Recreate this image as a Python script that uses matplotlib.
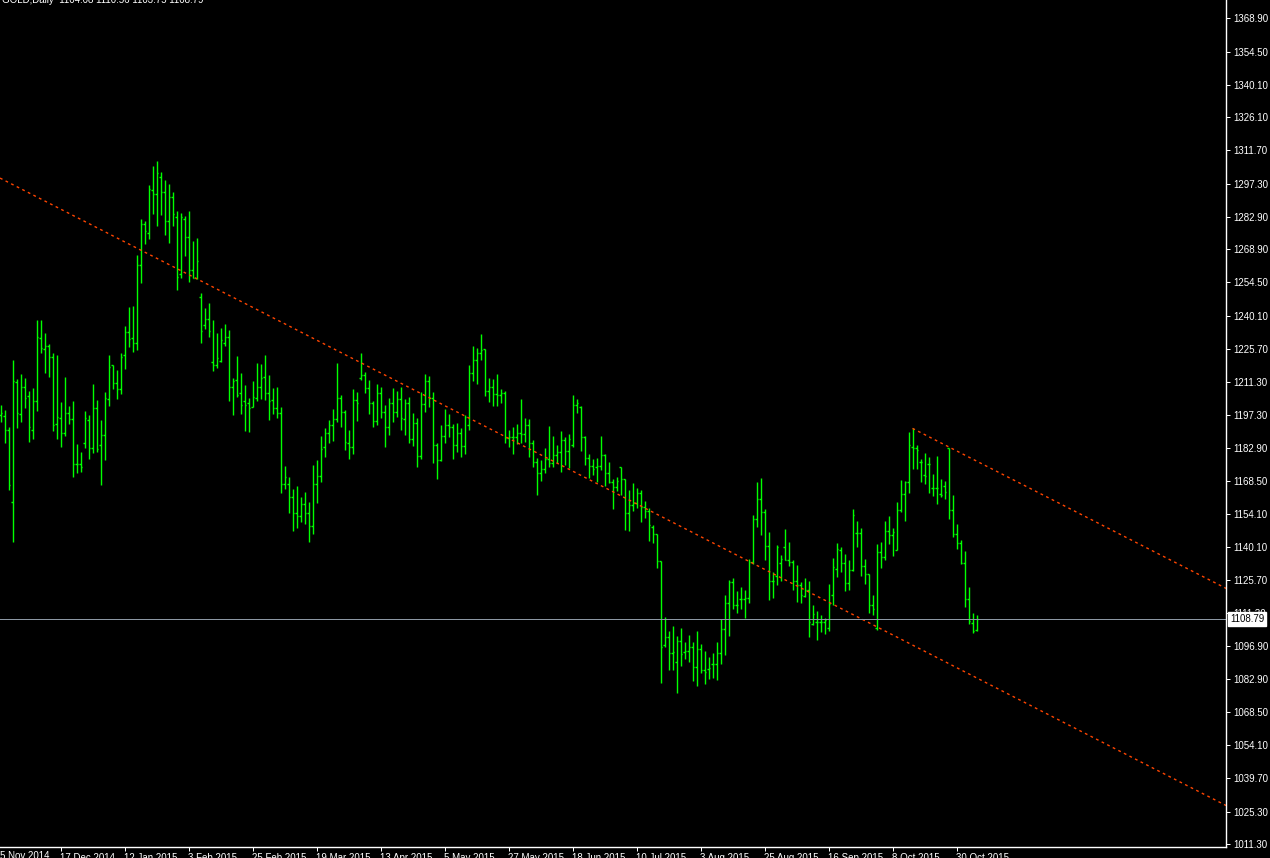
import numpy as np
import matplotlib
matplotlib.use('Agg')
import matplotlib.pyplot as plt
from matplotlib.transforms import blended_transform_factory

plt.rcParams['font.family'] = ['Liberation Sans', 'DejaVu Sans']

# GOLD daily bars, oldest first
opens = [
    1197.1, 1196.7, 1190.6, 1159.3, 1211.5, 1197.4, 1209.1, 1205.3, 1190.6, 1203.1,
    1230.3, 1225.7, 1227.0, 1222.1, 1193.2, 1195.6, 1189.1, 1197.8, 1195.2, 1175.9,
    1175.9, 1184.8, 1194.9, 1182.6, 1200.0, 1183.9, 1188.4, 1203.9, 1218.7, 1210.8,
    1208.2, 1223.1, 1232.9, 1230.3, 1228.1, 1261.9, 1279.7, 1276.0, 1294.5, 1292.7,
    1300.0, 1293.5, 1281.1, 1291.6, 1282.7, 1258.0, 1281.8, 1274.0, 1259.9, 1256.4,
    1248.0, 1236.1, 1238.5, 1220.0, 1218.7, 1220.3, 1228.4, 1230.7, 1209.1, 1212.3,
    1206.5, 1203.2, 1202.1, 1200.7, 1204.3, 1209.1, 1213.7, 1206.5, 1203.6, 1200.0,
    1197.8, 1167.1, 1167.1, 1161.6, 1154.8, 1153.3, 1158.4, 1154.5, 1149.0, 1167.1,
    1170.7, 1183.4, 1189.2, 1192.8, 1195.2, 1204.3, 1198.4, 1184.8, 1183.1, 1203.4,
    1213.0, 1214.4, 1208.6, 1202.1, 1194.5, 1206.8, 1198.2, 1192.0, 1202.1, 1198.2,
    1204.2, 1195.4, 1202.1, 1186.7, 1193.5, 1179.3, 1201.7, 1211.7, 1204.3, 1184.0,
    1177.6, 1187.9, 1192.8, 1191.7, 1184.1, 1189.2, 1183.7, 1192.8, 1215.4, 1220.9,
    1223.8, 1225.5, 1207.3, 1209.1, 1206.2, 1205.6, 1206.8, 1187.1, 1187.4, 1187.7,
    1189.4, 1189.0, 1192.9, 1184.8, 1176.6, 1171.8, 1173.7, 1178.0, 1176.2, 1179.8,
    1181.2, 1186.3, 1181.6, 1184.1, 1201.3, 1200.5, 1187.7, 1178.5, 1175.0, 1174.7,
    1175.0, 1179.6, 1172.1, 1168.2, 1165.8, 1174.4, 1169.5, 1154.5, 1158.0, 1158.8,
    1163.2, 1157.1, 1155.4, 1148.7, 1145.6, 1133.9, 1097.3, 1101.1, 1093.9, 1090.1,
    1099.2, 1094.6, 1094.9, 1096.8, 1088.1, 1095.9, 1086.6, 1087.2, 1089.1, 1089.1,
    1094.2, 1104.3, 1115.5, 1124.8, 1114.7, 1117.3, 1117.3, 1117.7, 1133.6, 1152.2,
    1160.6, 1155.1, 1140.3, 1125.0, 1127.3, 1133.1, 1139.8, 1134.3, 1133.6, 1125.0,
    1123.5, 1118.7, 1121.3, 1106.4, 1107.4, 1107.4, 1107.4, 1104.7, 1119.1, 1130.5,
    1138.5, 1132.9, 1124.2, 1130.0, 1146.1, 1146.1, 1131.7, 1128.2, 1114.8, 1104.7,
    1137.6, 1135.6, 1147.0, 1145.0, 1138.6, 1155.9, 1162.9, 1168.2, 1183.4, 1182.7,
    1176.6, 1170.9, 1175.9, 1165.3, 1165.3, 1162.7, 1166.5, 1183.0, 1155.9, 1145.6,
    1141.5, 1132.9, 1117.4, 1106.9, 1104.08,
]
highs = [
    1201.4, 1199.3, 1192.0, 1220.9, 1212.5, 1214.8, 1213.1, 1207.5, 1208.8, 1238.2,
    1238.2, 1232.6, 1227.8, 1224.0, 1223.1, 1202.7, 1213.5, 1201.0, 1203.1, 1184.5,
    1181.1, 1198.8, 1197.1, 1210.5, 1203.6, 1194.9, 1207.0, 1223.1, 1218.7, 1216.6,
    1224.0, 1235.6, 1243.7, 1244.3, 1266.4, 1282.0, 1281.1, 1296.7, 1304.9, 1307.1,
    1302.3, 1298.9, 1297.3, 1293.7, 1285.4, 1284.6, 1283.3, 1285.4, 1272.4, 1273.7,
    1250.0, 1243.4, 1245.5, 1238.2, 1232.6, 1234.8, 1236.5, 1233.9, 1213.0, 1222.6,
    1215.3, 1210.1, 1204.3, 1211.8, 1219.5, 1219.2, 1223.1, 1214.4, 1208.8, 1209.2,
    1200.6, 1175.1, 1170.4, 1164.9, 1166.3, 1161.6, 1163.7, 1159.4, 1175.4, 1177.6,
    1188.0, 1191.5, 1194.9, 1199.7, 1219.6, 1205.7, 1199.3, 1190.6, 1208.2, 1207.0,
    1223.9, 1215.7, 1212.3, 1203.3, 1210.5, 1209.2, 1201.4, 1204.5, 1208.8, 1207.5,
    1209.4, 1204.0, 1204.9, 1197.8, 1195.8, 1207.1, 1214.8, 1214.0, 1207.1, 1184.8,
    1192.6, 1199.7, 1197.5, 1193.2, 1193.6, 1191.5, 1196.9, 1218.7, 1227.0, 1226.1,
    1232.2, 1225.5, 1213.1, 1212.7, 1214.8, 1208.3, 1207.5, 1190.6, 1192.0, 1193.2,
    1204.0, 1195.8, 1195.4, 1186.3, 1178.3, 1177.6, 1182.8, 1192.2, 1187.9, 1183.9,
    1190.0, 1187.4, 1188.9, 1205.7, 1204.0, 1201.2, 1188.0, 1180.2, 1178.0, 1178.6,
    1188.0, 1180.2, 1176.7, 1169.4, 1170.2, 1174.4, 1169.5, 1164.6, 1167.5, 1165.5,
    1164.5, 1159.8, 1156.8, 1149.3, 1145.6, 1133.9, 1109.6, 1103.5, 1105.7, 1101.4,
    1105.0, 1098.8, 1101.8, 1098.8, 1103.5, 1097.8, 1094.9, 1092.3, 1093.9, 1099.0,
    1108.6, 1119.1, 1125.6, 1126.5, 1120.9, 1122.6, 1121.3, 1134.7, 1153.6, 1168.1,
    1169.8, 1156.4, 1146.4, 1129.1, 1140.8, 1136.3, 1147.7, 1142.1, 1134.3, 1132.1,
    1124.8, 1126.4, 1125.2, 1114.7, 1112.1, 1110.5, 1109.3, 1123.9, 1135.2, 1141.7,
    1139.9, 1136.9, 1134.3, 1156.4, 1151.2, 1148.0, 1134.7, 1128.2, 1119.0, 1141.2,
    1142.1, 1151.2, 1153.3, 1148.3, 1159.4, 1168.9, 1168.5, 1189.6, 1191.3, 1184.0,
    1177.9, 1180.5, 1179.1, 1171.5, 1179.3, 1169.2, 1168.5, 1183.0, 1162.4, 1149.9,
    1142.9, 1138.2, 1122.6, 1111.3, 1110.56,
]
lows = [
    1194.2, 1185.1, 1164.6, 1142.2, 1191.6, 1194.2, 1200.3, 1185.5, 1186.8, 1198.8,
    1224.1, 1215.4, 1213.7, 1190.3, 1186.8, 1183.1, 1188.1, 1193.3, 1170.4, 1172.1,
    1172.5, 1182.9, 1178.2, 1180.5, 1181.2, 1166.9, 1177.6, 1201.1, 1208.5, 1204.2,
    1206.3, 1217.2, 1226.7, 1224.5, 1225.4, 1254.4, 1271.3, 1273.5, 1284.3, 1279.1,
    1283.9, 1275.2, 1271.7, 1279.0, 1251.4, 1256.6, 1266.0, 1254.8, 1256.3, 1255.9,
    1228.1, 1234.2, 1230.7, 1216.3, 1217.6, 1220.2, 1227.1, 1203.3, 1197.1, 1205.0,
    1197.5, 1190.2, 1189.7, 1200.6, 1203.2, 1204.2, 1203.6, 1194.9, 1197.5, 1195.9,
    1163.3, 1165.0, 1154.6, 1147.0, 1148.2, 1150.9, 1149.9, 1142.2, 1145.7, 1159.1,
    1168.2, 1179.0, 1185.1, 1186.0, 1194.2, 1192.0, 1182.1, 1178.2, 1180.3, 1194.6,
    1212.3, 1206.8, 1197.4, 1191.9, 1192.8, 1195.9, 1183.4, 1188.6, 1194.2, 1196.4,
    1190.6, 1188.4, 1185.1, 1183.7, 1174.7, 1178.2, 1198.5, 1200.7, 1176.4, 1169.4,
    1177.3, 1185.0, 1187.6, 1178.2, 1181.2, 1178.8, 1180.2, 1190.6, 1211.8, 1210.5,
    1220.9, 1205.3, 1202.7, 1201.0, 1201.0, 1202.4, 1185.1, 1183.4, 1180.2, 1184.5,
    1184.8, 1185.5, 1179.0, 1174.7, 1162.6, 1168.7, 1172.1, 1174.7, 1174.7, 1176.2,
    1172.5, 1175.6, 1174.1, 1183.4, 1198.1, 1181.5, 1175.4, 1169.8, 1171.2, 1168.2,
    1173.3, 1166.3, 1167.5, 1156.5, 1164.2, 1162.4, 1147.3, 1147.0, 1155.7, 1156.7,
    1150.9, 1152.6, 1142.7, 1141.7, 1131.0, 1081.2, 1096.8, 1086.8, 1086.8, 1076.8,
    1088.2, 1091.3, 1090.3, 1082.0, 1079.9, 1085.2, 1080.7, 1082.9, 1083.3, 1082.5,
    1089.4, 1093.2, 1101.5, 1113.1, 1111.5, 1113.2, 1109.3, 1115.8, 1132.6, 1148.7,
    1145.3, 1134.4, 1117.0, 1118.0, 1123.6, 1125.3, 1134.1, 1131.8, 1121.3, 1116.2,
    1115.8, 1118.4, 1101.1, 1106.1, 1099.6, 1103.1, 1102.4, 1103.7, 1114.8, 1127.1,
    1129.1, 1121.0, 1121.4, 1129.7, 1140.1, 1127.5, 1124.0, 1111.3, 1110.6, 1104.0,
    1130.7, 1134.4, 1141.2, 1136.2, 1138.5, 1155.0, 1151.3, 1163.2, 1173.9, 1173.6,
    1168.2, 1167.1, 1163.5, 1161.9, 1158.7, 1161.7, 1160.6, 1151.9, 1144.4, 1138.9,
    1132.6, 1114.1, 1106.4, 1102.8, 1103.75,
]
closes = [
    1197.8, 1190.6, 1166.8, 1211.8, 1197.8, 1209.1, 1204.6, 1191.7, 1203.1, 1230.7,
    1226.0, 1227.0, 1222.1, 1192.6, 1196.1, 1189.1, 1197.8, 1195.2, 1175.9, 1175.9,
    1174.4, 1195.6, 1182.6, 1200.0, 1182.2, 1188.4, 1204.3, 1217.7, 1210.8, 1208.2,
    1222.4, 1232.9, 1230.0, 1228.1, 1261.9, 1279.7, 1276.8, 1294.8, 1292.7, 1301.8,
    1293.5, 1281.1, 1291.6, 1284.2, 1256.9, 1283.0, 1274.0, 1259.9, 1256.4, 1263.8,
    1233.3, 1238.5, 1233.3, 1218.7, 1221.6, 1229.6, 1230.7, 1209.1, 1211.8, 1205.8,
    1201.4, 1201.4, 1200.0, 1204.7, 1209.1, 1213.1, 1206.5, 1203.2, 1200.0, 1197.8,
    1167.1, 1170.4, 1161.6, 1154.8, 1153.3, 1158.4, 1154.5, 1149.0, 1167.1, 1170.7,
    1182.5, 1189.2, 1192.8, 1195.2, 1204.3, 1198.4, 1185.5, 1183.1, 1203.4, 1202.1,
    1214.4, 1208.6, 1202.1, 1194.5, 1206.8, 1198.2, 1192.0, 1202.1, 1198.2, 1204.2,
    1195.7, 1202.1, 1186.7, 1193.5, 1179.3, 1201.7, 1211.7, 1204.3, 1184.0, 1177.6,
    1187.9, 1192.8, 1191.7, 1184.1, 1189.2, 1183.7, 1196.4, 1215.4, 1220.9, 1223.8,
    1225.3, 1207.3, 1209.1, 1206.2, 1205.6, 1206.5, 1187.1, 1187.4, 1187.7, 1189.4,
    1189.0, 1192.9, 1184.8, 1176.6, 1171.8, 1173.7, 1178.0, 1176.2, 1179.8, 1181.2,
    1186.3, 1181.6, 1186.7, 1201.3, 1202.1, 1187.7, 1178.5, 1175.0, 1173.6, 1175.0,
    1179.6, 1171.8, 1168.2, 1165.8, 1168.5, 1169.5, 1154.8, 1158.0, 1159.1, 1163.2,
    1157.1, 1155.4, 1149.3, 1145.6, 1133.9, 1096.8, 1101.1, 1093.9, 1094.4, 1099.2,
    1093.6, 1094.9, 1096.8, 1088.1, 1095.9, 1086.6, 1085.8, 1087.5, 1089.1, 1094.2,
    1104.3, 1115.5, 1124.8, 1114.7, 1114.7, 1117.3, 1117.7, 1133.6, 1152.2, 1160.6,
    1155.1, 1140.3, 1125.0, 1125.0, 1139.8, 1134.6, 1134.3, 1133.6, 1125.0, 1123.5,
    1119.0, 1121.3, 1107.3, 1110.8, 1107.4, 1107.4, 1108.3, 1115.2, 1131.1, 1138.9,
    1132.9, 1124.2, 1130.0, 1153.6, 1146.1, 1131.7, 1128.4, 1114.8, 1113.1, 1137.6,
    1135.6, 1147.0, 1145.0, 1146.4, 1155.9, 1162.9, 1168.2, 1184.1, 1182.7, 1181.8,
    1176.6, 1170.7, 1175.9, 1165.3, 1165.3, 1162.4, 1163.9, 1155.9, 1145.6, 1141.5,
    1132.9, 1117.4, 1108.0, 1103.7, 1108.79,
]

price_ticks = [1368.90, 1354.50, 1340.10, 1326.10, 1311.70, 1297.30, 1282.90, 1268.90,
               1254.50, 1240.10, 1225.70, 1211.30, 1197.30, 1182.90, 1168.50, 1154.10,
               1140.10, 1125.70, 1111.30, 1096.90, 1082.90, 1068.50, 1054.10, 1039.70,
               1025.30, 1011.30]
date_labels = ['5 Nov 2014', '17 Dec 2014', '12 Jan 2015', '3 Feb 2015', '25 Feb 2015',
               '19 Mar 2015', '13 Apr 2015', '5 May 2015', '27 May 2015', '18 Jun 2015',
               '10 Jul 2015', '3 Aug 2015', '25 Aug 2015', '16 Sep 2015', '8 Oct 2015',
               '30 Oct 2015']
date_bars = [-1, 15, 31, 47, 63, 79, 95, 111, 127, 143, 159, 175, 191, 207, 223, 239]

last_price = 1108.79
title = 'GOLD,Daily  1104.08 1110.56 1103.75 1108.79'

# trend lines as (bar, price) anchor points
lower_line = [(0, 1299.6), (305, 1029.2)]
upper_line = [(228, 1191.3), (306.4, 1122.0)]

W, H = 1270, 858
plot_w, plot_h = 1226, 847
px = 0.72  # one pixel in points at 100 dpi

fig = plt.figure(figsize=(W / 100, H / 100), dpi=100, facecolor='black')
ax = fig.add_axes([0, 1 - plot_h / H, plot_w / W, plot_h / H])
ax.set_facecolor('black')

idx = np.arange(len(opens))
green = '#00ff00'
ax.vlines(idx, lows, highs, color=green, lw=1.0)
ax.hlines(opens, idx - 0.4, idx, color=green, lw=1.0)
ax.hlines(closes, idx, idx + 0.45, color=green, lw=1.0)

red = '#ff4500'
ax.axline(lower_line[0], lower_line[1], color=red, lw=1, linestyle=(0, (2, 2.5)))
ax.plot([p[0] for p in upper_line], [p[1] for p in upper_line],
        color=red, lw=1, linestyle=(0, (2, 2.5)))

ax.axhline(last_price, color='#8c98a4', lw=px)

ax.set_xlim(-0.125, -0.125 + plot_w / 4)
ax.set_ylim(1010.0, 1376.83)

# right price scale
ax.yaxis.tick_right()
ax.set_yticks(price_ticks)
ax.set_yticklabels(['%.2f' % v for v in price_ticks])
ax.tick_params(axis='y', colors='white', length=3, width=px, pad=2, labelsize=7)

# bottom date scale
ax.set_xticks(date_bars[1:])
ax.set_xticklabels(date_labels[1:])
for lbl in ax.get_xticklabels():
    lbl.set_horizontalalignment('left')
ax.tick_params(axis='x', colors='white', length=3, width=px, pad=1, labelsize=7)
ax.text(-0.125, -4 / plot_h, date_labels[0],
        transform=blended_transform_factory(ax.transData, ax.transAxes),
        color='white', fontsize=7, ha='left', va='top', clip_on=False)

for side in ['top', 'left']:
    ax.spines[side].set_visible(False)
for side in ['right', 'bottom']:
    ax.spines[side].set_color('white')
    ax.spines[side].set_linewidth(1)

# current price label
ax.text(1 + 4 / plot_w, last_price, '%.2f' % last_price,
        transform=blended_transform_factory(ax.transAxes, ax.transData),
        color='black', fontsize=7, ha='left', va='center', clip_on=False, zorder=10,
        bbox=dict(facecolor='white', edgecolor='white', pad=1.2))

fig.text(2 / W, 1.0, title, color='white', fontsize=7, ha='left', va='center')

fig.savefig('out.png', dpi=100, facecolor='black')
